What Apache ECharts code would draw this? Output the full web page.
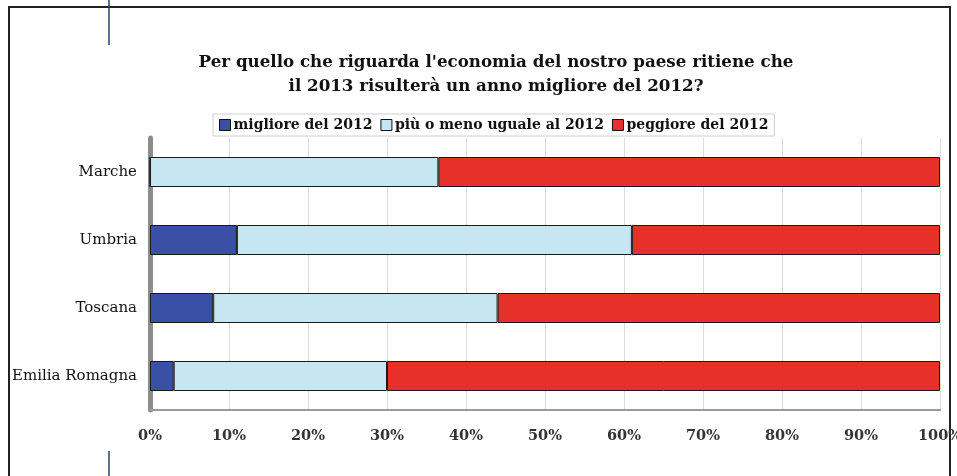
<!DOCTYPE html>
<html>
<head>
<meta charset="utf-8">
<script src="https://cdn.jsdelivr.net/npm/echarts@6/dist/echarts.min.js"></script>
<style>
html, body { margin: 0; padding: 0; background: #fff; }
#chart { width: 957px; height: 476px; }
</style>
</head>
<body>
<div id="chart"></div>
<script>
// regioni (dall'alto in basso)
var regioni = ['Marche', 'Umbria', 'Toscana', 'Emilia Romagna'];
var migliore = [0, 11, 8, 3];        // migliore del 2012
var uguale = [36.5, 50, 36, 27];     // più o meno uguale al 2012
var peggiore = [63.5, 39, 56, 70];   // peggiore del 2012
var tickPct = [0, 10, 20, 30, 40, 50, 60, 70, 80, 90, 100];

var serif = '"DejaVu Serif", "Liberation Serif", serif';

var chart = echarts.init(document.getElementById('chart'));

function serie(nome, dati, colore) {
	return {
		name: nome,
		type: 'bar',
		stack: 'tot',
		barWidth: 30,
		data: dati,
		itemStyle: {
			color: colore,
			borderColor: '#1a1a1a',
			borderWidth: 1
		}
	};
}

var option = {
	backgroundColor: '#ffffff',
	animation: false,
	title: {
		text: "Per quello che riguarda l'economia del nostro paese ritiene che\nil 2013 risulterà un anno migliore del 2012?",
		left: 491,
		textAlign: 'center',
		top: 46,
		textStyle: {
			fontFamily: serif,
			fontWeight: 'bold',
			fontSize: 16.7,
			lineHeight: 24,
			color: '#111'
		}
	},
	legend: {
		left: 213,
		top: 114,
		padding: [4, 6, 4, 6],
		borderColor: '#cfcfcf',
		borderWidth: 1,
		backgroundColor: '#fff',
		icon: 'rect',
		itemWidth: 11,
		itemHeight: 11,
		itemGap: 8,
		itemStyle: { borderColor: '#111', borderWidth: 1 },
		textStyle: {
			fontFamily: serif,
			fontWeight: 'bold',
			fontSize: 14,
			color: '#111',
			padding: [0, 0, 0, -2]
		},
		data: ['migliore del 2012', 'più o meno uguale al 2012', 'peggiore del 2012']
	},
	grid: {
		left: 150,
		right: 17,
		top: 138,
		bottom: 66,
		outerBoundsMode: 'none'
	},
	xAxis: {
		type: 'value',
		min: 0,
		max: 100,
		interval: 10,
		axisLine: { show: true, lineStyle: { color: '#9a9a9a', width: 2 } },
		axisTick: { show: false },
		splitLine: { show: true, lineStyle: { color: '#dcdcdc', width: 1 } },
		axisLabel: {
			margin: 19,
			fontFamily: serif,
			fontWeight: 'bold',
			fontSize: 14.5,
			color: '#333',
			formatter: function(v) {
				return tickPct.indexOf(v) >= 0 ? v + '%' : '';
			}
		}
	},
	yAxis: {
		type: 'category',
		inverse: true,
		data: regioni,
		axisLine: { show: true, lineStyle: { color: '#8c8c8c', width: 5 } },
		axisTick: { show: false },
		axisLabel: {
			margin: 13,
			fontFamily: serif,
			fontSize: 15,
			color: '#111'
		}
	},
	graphic: [
		{ // cornice
			type: 'rect',
			shape: { x: 9, y: 7, width: 941, height: 480 },
			style: { fill: 'none', stroke: '#222', lineWidth: 2 },
			silent: true
		},
		{
			type: 'line',
			shape: { x1: 109, y1: 0, x2: 109, y2: 45 },
			style: { stroke: '#1f3f7a', lineWidth: 1.5 }
		},
		{
			type: 'line',
			shape: { x1: 109, y1: 451, x2: 109, y2: 476 },
			style: { stroke: '#1f3f7a', lineWidth: 1.5 }
		}
	],
	series: [
		serie('migliore del 2012', migliore, '#3a4fa6'),
		serie('più o meno uguale al 2012', uguale, '#c6e7f1'),
		serie('peggiore del 2012', peggiore, '#e8302b')
	]
};

chart.setOption(option);
</script>
</body>
</html>
